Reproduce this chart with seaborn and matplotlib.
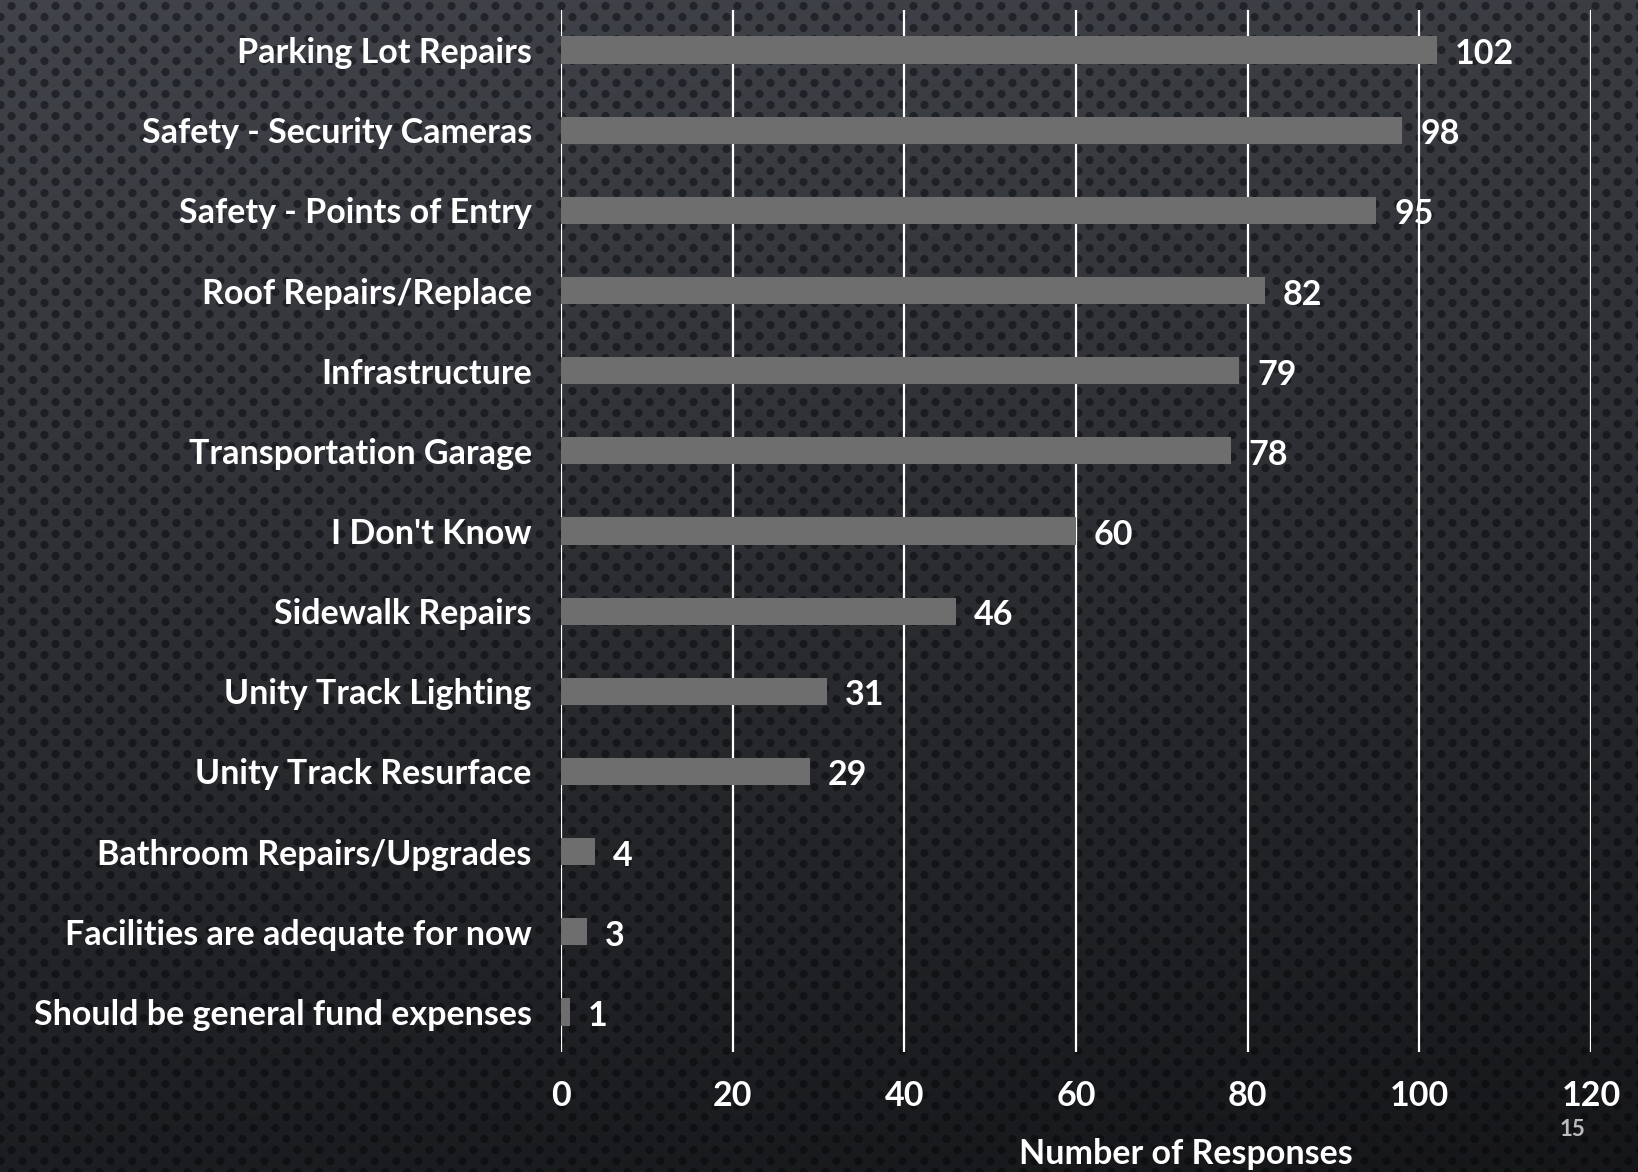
import numpy as np
import pandas as pd
import matplotlib
matplotlib.use("Agg")
import matplotlib.pyplot as plt
import seaborn as sns

categories = [
    "Parking Lot Repairs",
    "Safety - Security Cameras",
    "Safety - Points of Entry",
    "Roof Repairs/Replace",
    "Infrastructure",
    "Transportation Garage",
    "I Don't Know",
    "Sidewalk Repairs",
    "Unity Track Lighting",
    "Unity Track Resurface",
    "Bathroom Repairs/Upgrades",
    "Facilities are adequate for now",
    "Should be general fund expenses",
]
responses = [102, 98, 95, 82, 79, 78, 60, 46, 31, 29, 4, 3, 1]
x_ticks = [0, 20, 40, 60, 80, 100, 120]
x_label = "Number of Responses"
page_number = "15"

df = pd.DataFrame({"category": categories, "responses": responses})

sns.set_theme(style="white")
plt.rcParams["font.family"] = ["Lato", "DejaVu Sans"]
plt.rcParams["font.weight"] = "bold"

FS = 24.5
W, H = 1638, 1172
fig = plt.figure(figsize=(W / 100, H / 100), dpi=100)

# background texture (dark gradient with perforated dots)
yy, xx = np.mgrid[0:H, 0:W].astype(float)
row = np.floor(yy / 11.0)
yc = (row + 0.5) * 11.0
off = (row % 2) * 11.0
xc = np.floor((xx - off) / 22.0) * 22.0 + off + 11.0
d = np.hypot(xx - xc, yy - yc)
dot = np.clip(4.6 - d, 0, 1)
t = np.clip(0.85 * yy / H + 0.15 * xx / W, 0, 1)
top = np.array([0.255, 0.265, 0.29])
bot = np.array([0.085, 0.088, 0.098])
base = top[None, None, :] * (1 - t[..., None]) + bot[None, None, :] * t[..., None]
dark = np.array([0.10, 0.11, 0.13])
img = base * (1 - 0.75 * dot[..., None]) + dark[None, None, :] * 0.75 * dot[..., None] * (1 - t[..., None] * 0.6)
bg = fig.add_axes([0, 0, 1, 1], zorder=-10)
bg.imshow(img, aspect="auto", extent=[0, 1, 0, 1], interpolation="nearest")
bg.axis("off")

ax = fig.add_axes([561 / W, 1 - 1052 / H, (1591 - 561) / W, (1052 - 10) / H])
ax.set_facecolor("none")
sns.barplot(data=df, y="category", x="responses", orient="h", color="#6e6e6e",
            width=0.34, saturation=1, linewidth=0, edgecolor="none", ax=ax, zorder=3)

ax.set_xlim(0, 120)
ax.set_xticks(x_ticks)
ax.xaxis.grid(True, color="white", linewidth=1.6, zorder=0)
ax.set_axisbelow(True)
for s in ax.spines.values():
    s.set_visible(False)
ax.tick_params(axis="both", length=0, colors="white", labelsize=FS)
ax.tick_params(axis="x", pad=20)
ax.tick_params(axis="y", pad=21)
for lab in ax.get_xticklabels() + ax.get_yticklabels():
    lab.set_fontweight("bold")
    lab.set_color("white")
ax.set_xlabel("")
ax.set_ylabel("")

for i, v in enumerate(responses):
    ax.annotate(str(v), xy=(v, i), xytext=(18, -4), textcoords="offset pixels",
                ha="left", va="center", color="white", fontsize=FS, fontweight="bold", zorder=5)

fig.text(1186 / W, 1 - 1154 / H, x_label, ha="center", va="center", color="white",
         fontsize=FS, fontweight="bold")
fig.text(1572 / W, 1 - 1130 / H, page_number, ha="center", va="center", color="#bdbdbd",
         fontsize=16, fontweight="bold")

fig.savefig("out.png", dpi=100)
